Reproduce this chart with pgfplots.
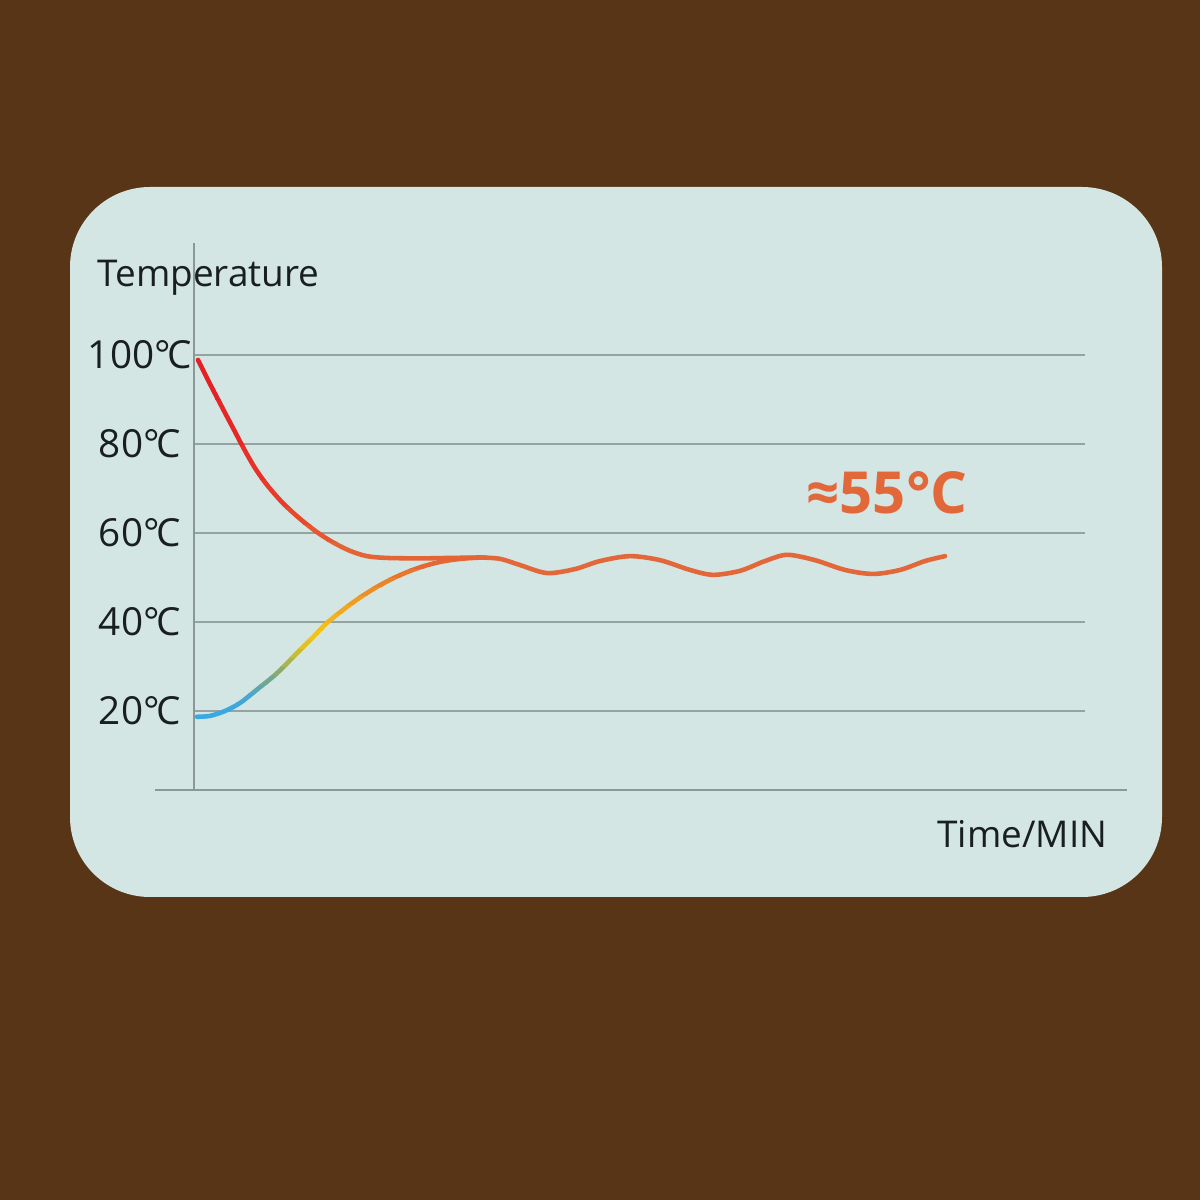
\documentclass[border=0pt]{standalone}
\usepackage{pgfplots}
\usepackage{pgfplotstable}
\pgfplotsset{compat=1.18}
\usepackage{fontspec}
\setmainfont{Open Sans}
\definecolor{bg}{RGB}{87,53,22}
\definecolor{panel}{RGB}{211,230,228}
\definecolor{gridc}{RGB}{150,163,163}
\definecolor{axc}{RGB}{140,152,152}
\definecolor{orng}{RGB}{226,104,58}
\definecolor{txt}{RGB}{25,30,32}
% rising curve colours (by temperature band)
\definecolor{r1}{RGB}{58,168,226}
\definecolor{r2}{RGB}{60,168,224}
\definecolor{r3}{RGB}{68,168,210}
\definecolor{r4}{RGB}{90,168,180}
\definecolor{r5}{RGB}{115,166,145}
\definecolor{r6}{RGB}{140,170,110}
\definecolor{r7}{RGB}{170,180,80}
\definecolor{r8}{RGB}{200,188,55}
\definecolor{r9}{RGB}{225,193,35}
\definecolor{r10}{RGB}{240,196,25}
\definecolor{r11}{RGB}{242,190,28}
\definecolor{r12}{RGB}{242,180,30}
\definecolor{r13}{RGB}{241,168,33}
\definecolor{r14}{RGB}{240,155,36}
\definecolor{r15}{RGB}{238,142,38}
\definecolor{r16}{RGB}{236,130,42}
\definecolor{r17}{RGB}{233,118,45}
\definecolor{r18}{RGB}{228,104,54}
% falling curve colours
\definecolor{f1}{RGB}{228,100,54}
\definecolor{f2}{RGB}{230,86,48}
\definecolor{f3}{RGB}{231,72,44}
\definecolor{f4}{RGB}{231,60,42}
\definecolor{f5}{RGB}{230,48,40}
\definecolor{f6}{RGB}{229,40,38}
\definecolor{f7}{RGB}{228,33,37}

\pgfplotstableread{
t T
0.3 18.7
1.6 18.9
3.1 20.0
4.6 21.8
6.4 25.0
8.3 28.5
10.6 33.7
12.0 36.8
13.3 39.8
15.3 43.4
16.8 45.8
18.3 47.9
19.8 49.7
21.3 51.2
22.9 52.5
24.6 53.5
26.3 54.1
27.9 54.4
29.1 54.5
}\risedata

\pgfplotstableread{
t T
0.4 98.9
1.6 93.5
2.8 88.3
3.9 83.6
5.0 78.9
6.1 74.6
7.3 70.8
8.9 66.7
10.6 63.2
12.3 60.2
13.9 57.9
15.6 56.0
17.3 54.8
19.3 54.4
22.6 54.3
25.6 54.4
28.6 54.5
}\falldata

\newcommand{\rband}[3]{\begin{scope}\clip (axis cs:-5,#1) rectangle (axis cs:40,#2);
  \addplot[smooth, draw=#3, line width=1.3pt, line cap=round] table[x=t,y=T] {\risedata};\end{scope}}
\newcommand{\fband}[3]{\begin{scope}\clip (axis cs:-5,#1) rectangle (axis cs:40,#2);
  \addplot[smooth, draw=#3, line width=1.3pt, line cap=round] table[x=t,y=T] {\falldata};\end{scope}}

\begin{document}
\begin{tikzpicture}
\fill[bg] (0,0) rectangle (12,12);
\fill[panel, rounded corners=8mm] (0.70,3.03) rectangle (11.62,10.13);
\begin{axis}[at={(1.55cm,4.10cm)}, anchor=south west, scale only axis,
  width=9.72cm, height=5.47cm, xmin=-3.9, xmax=93.3, ymin=2.25, ymax=125.17,
  hide axis, clip=false]
\pgfplotsinvokeforeach{20,40,60,80,100}{
  \draw[gridc, line width=0.6pt] (axis cs:0,#1) -- (axis cs:89.1,#1);
  \node[txt, font=\fontsize{11}{13}\selectfont] at (axis cs:-5.4,#1) {#1°\kern-0.08emC};
}
\draw[axc, line width=0.5pt] (axis cs:0,2.25) -- (axis cs:0,125.17);
\draw[axc, line width=0.5pt] (axis cs:-3.9,2.25) -- (axis cs:93.3,2.25);

\rband{10}{20}{r1}
\rband{20}{22}{r2}
\rband{22}{24}{r3}
\rband{24}{26}{r4}
\rband{26}{28}{r5}
\rband{28}{30}{r6}
\rband{30}{32}{r7}
\rband{32}{34}{r8}
\rband{34}{36}{r9}
\rband{36}{38}{r10}
\rband{38}{40}{r11}
\rband{40}{42}{r12}
\rband{42}{44}{r13}
\rband{44}{46}{r14}
\rband{46}{48}{r15}
\rband{48}{50}{r16}
\rband{50}{52}{r17}
\rband{52}{60}{r18}

\fband{48}{58}{f1}
\fband{58}{62}{f2}
\fband{62}{66}{f3}
\fband{66}{72}{f4}
\fband{72}{80}{f5}
\fband{80}{90}{f6}
\fband{90}{106}{f7}

\addplot[smooth, orng, line width=1.3pt, line cap=round]
coordinates {(28.6,54.5) (30.6,54.2) (32.6,52.8) (35.3,51.0) (38.1,51.9) (40.6,53.7) (43.6,54.8) (46.6,53.9) (49.6,51.7) (51.9,50.6) (54.6,51.5) (57.1,53.7) (59.3,55.1) (62.1,53.9) (65.1,51.7) (67.9,50.8) (70.6,51.7) (73.1,53.7) (75.1,54.8)};

\node[txt, anchor=base west, inner sep=0pt, font=\fontsize{10.5}{12}\selectfont] at (axis cs:-9.7,115.3) {Temperature};
\node[txt, anchor=base east, inner sep=0pt, font=\fontsize{10.5}{12}\selectfont] at (axis cs:91.4,-10.6) {Time/MIN};
\node[orng, anchor=base west, inner sep=0pt, font=\bfseries\fontsize{16.5}{18}\selectfont] at (axis cs:61.2,64.3) {≈55°C};
\end{axis}
\end{tikzpicture}
\end{document}
